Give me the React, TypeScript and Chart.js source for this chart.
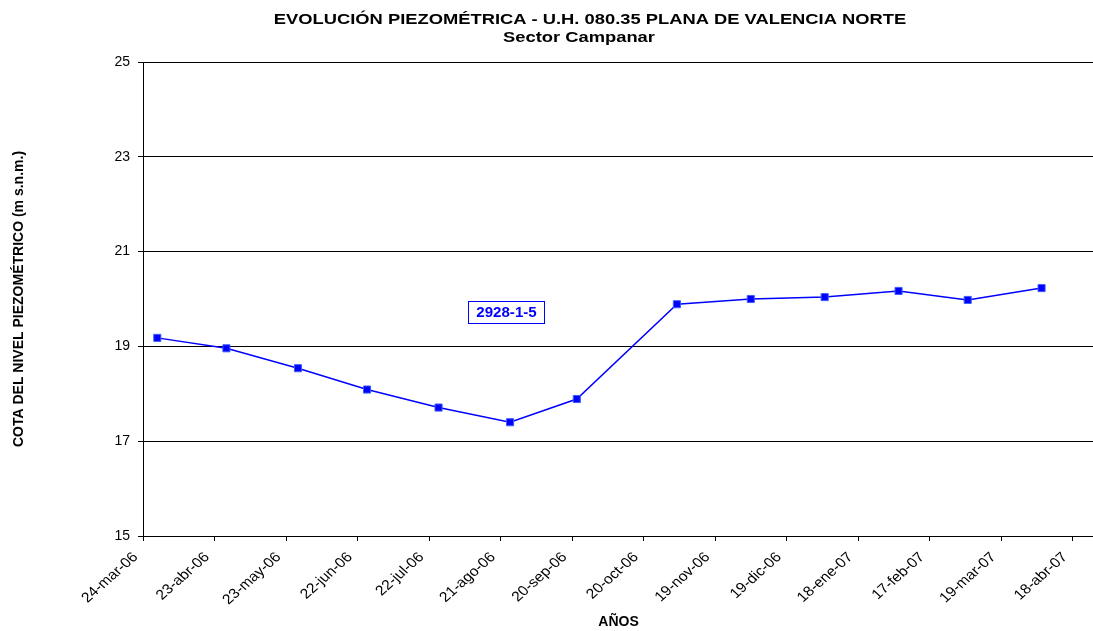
import { useEffect, useRef } from 'react';
import { Chart, registerables } from 'chart.js';

Chart.register(...registerables);

// Fechas de medida del piezómetro 2928-1-5
const fechas = [
  '2006-03-30', '2006-04-28', '2006-05-28', '2006-06-26', '2006-07-26',
  '2006-08-25', '2006-09-22', '2006-11-03', '2006-12-04', '2007-01-04',
  '2007-02-04', '2007-03-05', '2007-04-05',
];

// Cota del nivel piezométrico (m s.n.m.)
const cotas = [
  19.18, 18.96, 18.54, 18.09, 17.71, 17.4, 17.89, 19.89, 20.0, 20.04, 20.17, 19.98, 20.23,
];

// Etiquetas del eje de fechas (cada 30 días desde el 24-mar-06)
const etiquetasFecha = [
  '24-mar-06', '23-abr-06', '23-may-06', '22-jun-06', '22-jul-06', '21-ago-06', '20-sep-06',
  '20-oct-06', '19-nov-06', '19-dic-06', '18-ene-07', '17-feb-07', '19-mar-07', '18-abr-07',
];

const cotaTicks = [15, 17, 19, 21, 23, 25];

const titulo = ['EVOLUCIÓN PIEZOMÉTRICA - U.H. 080.35 PLANA DE VALENCIA NORTE', 'Sector Campanar'];
const nombrePiezometro = '2928-1-5';

const ORIGEN = Date.UTC(2006, 2, 24);
const DIA = 86400000;
const diasDesdeOrigen = (f: string) => Math.round((Date.parse(f + 'T00:00:00Z') - ORIGEN) / DIA);

const FONT = 'Arial, "Liberation Sans", Helvetica, sans-serif';

// Título de dos líneas, algo ensanchado en horizontal
const tituloPlugin = {
  id: 'tituloGrafico',
  afterDraw(chart: any) {
    const { ctx } = chart;
    const escalaX = 1.31;
    const lineas = [
      { texto: titulo[0], cx: 590, cy: 20 },
      { texto: titulo[1], cx: 579, cy: 38 },
    ];
    ctx.save();
    ctx.fillStyle = '#000';
    ctx.font = `bold 14px ${FONT}`;
    ctx.textAlign = 'center';
    ctx.textBaseline = 'middle';
    for (const l of lineas) {
      ctx.save();
      ctx.translate(l.cx, l.cy);
      ctx.scale(escalaX, 1);
      ctx.fillText(l.texto, 0, 0);
      ctx.restore();
    }
    ctx.restore();
  },
};

// Etiquetas de fecha giradas bajo el eje X
const etiquetasXPlugin = {
  id: 'etiquetasX',
  afterDraw(chart: any) {
    const { ctx, scales } = chart;
    const x = scales.x;
    const yBase = x.top;
    ctx.save();
    ctx.fillStyle = '#000';
    ctx.font = `14px ${FONT}`;
    ctx.textAlign = 'right';
    ctx.textBaseline = 'top';
    etiquetasFecha.forEach((txt, i) => {
      const px = x.getPixelForValue(i * 30);
      ctx.save();
      ctx.translate(px - 13, yBase + 14);
      ctx.scale(1.12, 1);
      ctx.rotate(-Math.PI / 4);
      ctx.fillText(txt, 0, 0);
      ctx.restore();
    });
    ctx.restore();
  },
};

const etiquetaSeriePlugin = {
  id: 'etiquetaSerie',
  afterDatasetsDraw(chart: any) {
    const { ctx, scales } = chart;
    const cx = scales.x.getPixelForValue(152.5);
    const cy = scales.y.getPixelForValue(19.73);
    ctx.save();
    ctx.font = `bold 14px ${FONT}`;
    const w = Math.round(ctx.measureText(nombrePiezometro).width + 20);
    const h = 22;
    const left = Math.round(cx - w / 2);
    const top = Math.round(cy - h / 2);
    ctx.fillStyle = '#fff';
    ctx.fillRect(left, top, w, h);
    ctx.strokeStyle = '#0000ff';
    ctx.lineWidth = 1;
    ctx.strokeRect(left + 0.5, top + 0.5, w, h);
    ctx.fillStyle = '#0000ff';
    ctx.textAlign = 'center';
    ctx.textBaseline = 'middle';
    ctx.save();
    ctx.translate(left + w / 2 + 0.5, top + h / 2 + 1.5);
    ctx.scale(1.08, 1);
    ctx.fillText(nombrePiezometro, 0, 0);
    ctx.restore();
    ctx.restore();
  },
};

export default function App() {
  const canvasRef = useRef<HTMLCanvasElement | null>(null);

  useEffect(() => {
    document.body.style.margin = '0';
    const canvas = canvasRef.current;
    if (!canvas) return;

    const puntos = fechas.map((f, i) => ({ x: diasDesdeOrigen(f), y: cotas[i] }));

    const chart = new Chart(canvas, {
      type: 'line',
      data: {
        datasets: [
          {
            label: nombrePiezometro,
            data: puntos,
            borderColor: '#0000ff',
            borderWidth: 1.5,
            pointStyle: 'rect',
            pointRadius: 5,
            pointBackgroundColor: '#0000ff',
            pointBorderColor: '#3a5cff',
            pointBorderWidth: 1,
            tension: 0,
          },
        ],
      },
      options: {
        animation: false,
        responsive: false,
        devicePixelRatio: 1,
        layout: { padding: { top: 62, left: 0, right: 0, bottom: 0 } },
        plugins: {
          legend: { display: false },
          tooltip: { enabled: false },
          title: { display: false },
        },
        scales: {
          x: {
            type: 'linear',
            min: 0,
            max: 399,
            afterBuildTicks(scale: any) {
              scale.ticks = etiquetasFecha.map((_, i) => ({ value: i * 30 }));
            },
            afterFit(scale: any) {
              scale.height = 95;
            },
            ticks: { display: false },
            grid: {
              display: true,
              drawOnChartArea: false,
              drawTicks: true,
              tickLength: 5,
              color: '#000',
            },
            border: { display: true, color: '#000', width: 1 },
            title: {
              display: true,
              text: 'AÑOS',
              color: '#000',
              font: { family: FONT, size: 14, weight: 'bold' },
              padding: { top: 0, bottom: 0 },
            },
          },
          y: {
            type: 'linear',
            min: 15,
            max: 25,
            afterBuildTicks(scale: any) {
              scale.ticks = cotaTicks.map((v) => ({ value: v }));
            },
            afterFit(scale: any) {
              scale.width = 143;
            },
            ticks: {
              padding: 8,
              color: '#000',
              font: { family: FONT, size: 14 },
            },
            grid: {
              color: '#000',
              lineWidth: 1,
              tickLength: 5,
              drawTicks: true,
            },
            border: { display: true, color: '#000', width: 1 },
            title: {
              display: true,
              text: 'COTA DEL NIVEL PIEZOMÉTRICO (m s.n.m.)',
              color: '#000',
              font: { family: FONT, size: 14, weight: 'bold' },
              padding: { top: 11, bottom: 0 },
            },
          },
        },
      },
      plugins: [tituloPlugin, etiquetasXPlugin, etiquetaSeriePlugin],
    } as any);

    return () => chart.destroy();
  }, []);

  return (
    <div style={{ width: 1093, height: 631, overflow: 'hidden', background: '#fff' }}>
      <canvas ref={canvasRef} width={1100} height={631} style={{ display: 'block' }} />
    </div>
  );
}
